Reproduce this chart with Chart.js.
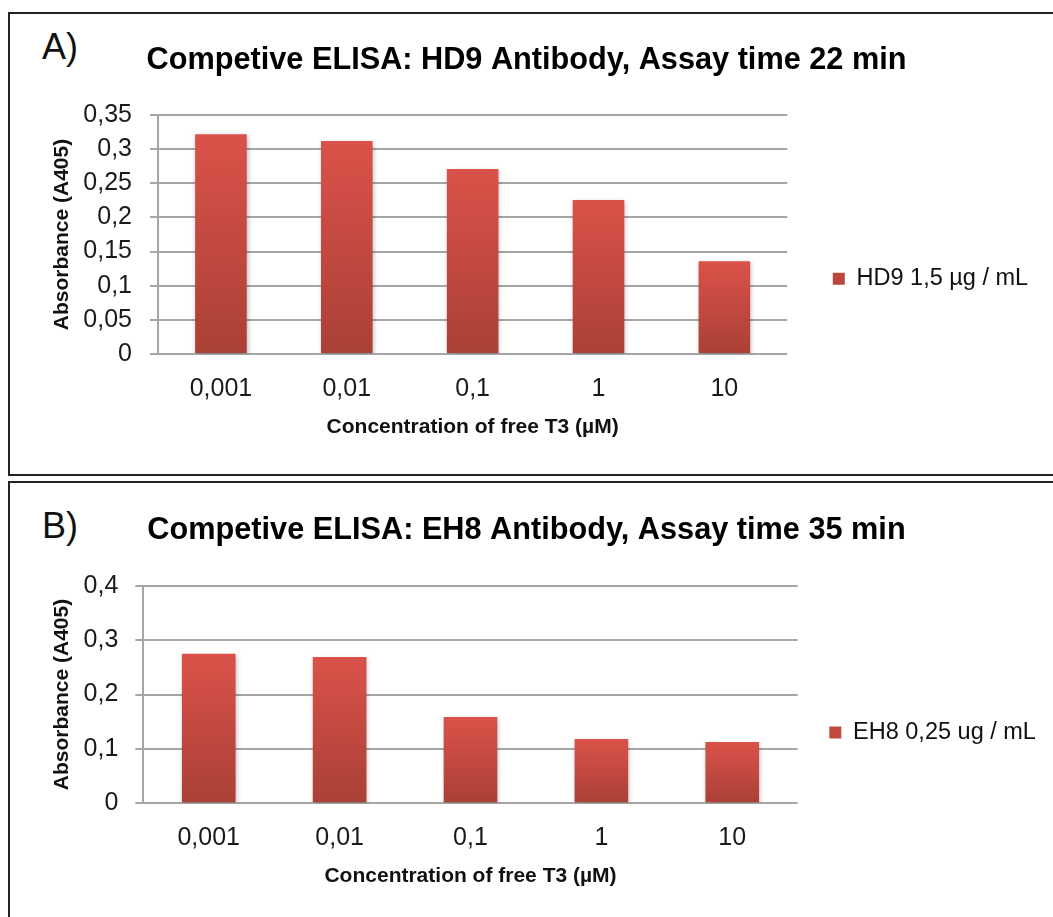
<!DOCTYPE html>
<html>
<head>
<meta charset="utf-8">
<title>Competive ELISA</title>
<script src="https://cdn.jsdelivr.net/npm/chart.js@4.4.1/dist/chart.umd.min.js"></script>
<style>
  html, body { margin: 0; padding: 0; background: #fff; overflow: hidden; }
  body { position: relative; width: 1053px; height: 917px; font-family: "Liberation Sans", Arial, sans-serif; }
  .frame { position: absolute; left: 8px; width: 1100px; border: 2px solid #222; box-sizing: border-box; }
  #frameA { top: 12px; height: 464px; }
  #frameB { top: 481px; height: 500px; }
  .tag { position: absolute; left: 42px; font-size: 36px; line-height: 1; color: #111; }
  #tagA { top: 29px; }
  #tagB { top: 508px; }
  canvas { position: absolute; left: 0; }
  #chartA { top: 13px; }
  #chartB { top: 482px; }
</style>
</head>
<body>
<div class="frame" id="frameA"></div>
<div class="frame" id="frameB"></div>
<div class="tag" id="tagA">A)</div>
<div class="tag" id="tagB">B)</div>
<canvas id="chartA" width="1053" height="462"></canvas>
<canvas id="chartB" width="1053" height="435"></canvas>
<script>
// ---- Data ----
var categories = ['0,001', '0,01', '0,1', '1', '10'];

var hd9Label = 'HD9 1,5 µg / mL';
var hd9Values = [0.322, 0.312, 0.271, 0.2255, 0.136];
var hd9Ticks = ['0', '0,05', '0,1', '0,15', '0,2', '0,25', '0,3', '0,35'];

var eh8Label = 'EH8 0,25 ug / mL';
var eh8Values = [0.275, 0.269, 0.1585, 0.118, 0.1127];
var eh8Ticks = ['0', '0,1', '0,2', '0,3', '0,4'];

var titleA = 'Competive ELISA: HD9 Antibody, Assay time 22 min';
var titleB = 'Competive ELISA: EH8 Antibody, Assay time 35 min';
var xTitle = 'Concentration of free T3 (µM)';
var yTitle = 'Absorbance (A405)';

// ---- Styles ----
var FONT = '"Liberation Sans", Arial, sans-serif';
var LEGEND_SIZE = 23.5;
var GRID = '#a6a6a6';
var BAR_TOP = '#da5249';
var BAR_BOTTOM = '#aa4037';

Chart.defaults.font.family = FONT;
Chart.defaults.color = '#1a1a1a';

// gradient per bar, light at the top, dark at the base
function barFill(ctx) {
  var chart = ctx.chart;
  var y = chart.scales && chart.scales.y;
  if (ctx.type !== 'data' || !chart.chartArea || !y) return '#c84a42';
  var top = y.getPixelForValue(ctx.raw);
  var base = y.getPixelForValue(0);
  var g = chart.ctx.createLinearGradient(0, top, 0, base);
  g.addColorStop(0, BAR_TOP);
  g.addColorStop(1, BAR_BOTTOM);
  return g;
}

// soft drop shadow under the bars
var barShadow = {
  id: 'barShadow',
  beforeDatasetsDraw: function (chart) {
    var c = chart.ctx;
    c.save();
    c.shadowColor = 'rgba(0,0,0,0.28)';
    c.shadowBlur = 5;
    c.shadowOffsetX = 1;
    c.shadowOffsetY = 2;
  },
  afterDatasetsDraw: function (chart) {
    chart.ctx.restore();
  }
};

function textWidth(text, size) {
  var c = document.createElement('canvas').getContext('2d');
  c.font = size + 'px ' + FONT;
  return c.measureText(text).width;
}

function drawPanel(id, p) {
  var canvas = document.getElementById(id);
  var W = canvas.width, H = canvas.height;
  // vertical legends get 10px extra from Chart.js
  var legendW = p.legendPad + 12 + LEGEND_SIZE / 2 + textWidth(p.label, LEGEND_SIZE) + 10;
  // same padding both sides keeps the title centred on the page
  var side = Math.max(0, W - p.right - legendW);
  var legendBottom = H - p.padBottom;
  var legendShift = 2 * p.legendY - legendBottom - 14.4;

  new Chart(canvas, {
    type: 'bar',
    data: {
      labels: categories,
      datasets: [{
        label: p.label,
        data: p.values,
        backgroundColor: barFill,
        borderWidth: 0,
        categoryPercentage: 1,
        barPercentage: 0.41
      }]
    },
    options: {
      responsive: false,
      animation: false,
      layout: { padding: { left: side, right: side, top: 0, bottom: p.padBottom } },
      plugins: {
        title: {
          display: true,
          text: p.title,
          color: '#000',
          font: { size: 30.7, weight: 'bold' },
          padding: { top: p.titleTop, bottom: p.titleBottom }
        },
        legend: {
          position: 'right',
          align: 'center',
          title: { display: true, text: '', padding: { top: 0, bottom: legendShift } },
          labels: {
            boxWidth: 12,
            boxHeight: 12,
            padding: p.legendPad,
            color: '#111',
            font: { size: LEGEND_SIZE }
          }
        },
        tooltip: { enabled: false }
      },
      scales: {
        x: {
          grid: { display: false, drawTicks: false, tickLength: 0 },
          border: { display: false },
          ticks: { font: { size: 25 }, color: '#1a1a1a', padding: 20 },
          title: {
            display: true,
            text: xTitle,
            color: '#111',
            font: { size: 21, weight: 'bold' },
            padding: { top: 0, bottom: 14.6 }
          },
          afterFit: function (s) { s.height = 100; }
        },
        y: {
          min: 0,
          max: p.max,
          ticks: {
            stepSize: p.step,
            font: { size: 25 },
            color: '#1a1a1a',
            padding: p.tickPad,
            callback: function (v, i) { return p.ticks[i]; }
          },
          grid: { color: GRID, lineWidth: 2, tickLength: 8 },
          border: { color: GRID, width: 2 },
          title: {
            display: true,
            text: yTitle,
            color: '#111',
            font: { size: 21, weight: 'bold' },
            padding: { top: 62 - 12.6 - side, bottom: 0 }
          },
          afterFit: function (s) { s.width = p.left - side; }
        }
      }
    },
    plugins: [barShadow]
  });
}

drawPanel('chartA', {
  title: titleA, label: hd9Label, values: hd9Values, ticks: hd9Ticks,
  max: 0.35, step: 0.05,
  left: 158, right: 787.3, padBottom: 21,
  titleTop: 29.3, titleBottom: 35.9,
  tickPad: 18, legendPad: 45.5, legendY: 265.7
});

drawPanel('chartB', {
  title: titleB, label: eh8Label, values: eh8Values, ticks: eh8Ticks,
  max: 0.4, step: 0.1,
  left: 143.3, right: 797.7, padBottom: 13.7,
  titleTop: 30.3, titleBottom: 36.6,
  tickPad: 17, legendPad: 31.6, legendY: 250.5
});
</script>
</body>
</html>
